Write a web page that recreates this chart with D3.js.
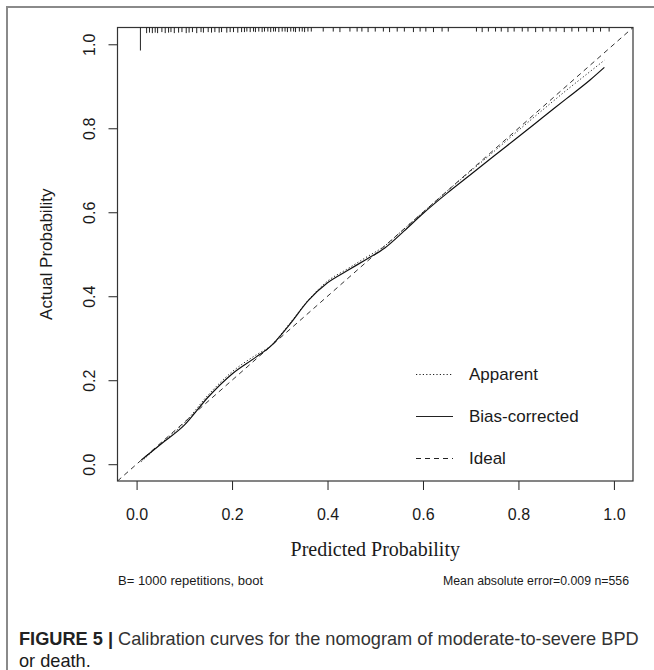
<!DOCTYPE html>
<html>
<head>
<meta charset="utf-8">
<script src="https://cdn.jsdelivr.net/npm/d3@7"></script>
<style>
  body { margin: 0; background: #fff; }
  svg { display: block; }
  text { font-family: "Liberation Sans", Arial, sans-serif; fill: #1a1a1a; }
</style>
</head>
<body>
<div id="chart"></div>
<script>
// calibration curves (x = predicted, y = observed)
const predX = [0.01, 0.05, 0.10, 0.15, 0.20, 0.25, 0.28, 0.32, 0.36, 0.40, 0.44, 0.48, 0.52, 0.56, 0.60, 0.65, 0.70, 0.75, 0.80, 0.85, 0.90, 0.95, 0.98];
const biasCorrected = [0.010, 0.047, 0.093, 0.160, 0.215, 0.255, 0.280, 0.332, 0.390, 0.432, 0.460, 0.487, 0.515, 0.555, 0.597, 0.645, 0.690, 0.735, 0.780, 0.825, 0.870, 0.915, 0.945];
const apparent = [0.006, 0.048, 0.098, 0.165, 0.220, 0.260, 0.281, 0.334, 0.391, 0.436, 0.464, 0.492, 0.520, 0.560, 0.600, 0.650, 0.698, 0.746, 0.795, 0.843, 0.890, 0.935, 0.962];
const ideal = [-0.04, 1.04];

// distribution of predicted probabilities (rug at top)
const rugX = [0.008, 0.021, 0.027, 0.033, 0.039, 0.044, 0.053, 0.060, 0.067, 0.072, 0.079, 0.088, 0.095, 0.104, 0.110, 0.117, 0.126, 0.135, 0.140, 0.150, 0.157, 0.164, 0.173, 0.178, 0.189, 0.196, 0.203, 0.212, 0.220,
  0.226, 0.231, 0.238, 0.245, 0.249, 0.256, 0.263, 0.268, 0.275, 0.281, 0.287, 0.291, 0.298, 0.305, 0.311, 0.316, 0.323, 0.329, 0.333, 0.341, 0.347, 0.352, 0.359, 0.366,
  0.391, 0.412, 0.426, 0.447, 0.462, 0.472, 0.485, 0.50, 0.517, 0.53, 0.546, 0.561, 0.58, 0.594, 0.606, 0.622, 0.64, 0.653,
  0.712, 0.724, 0.737, 0.752, 0.764, 0.778, 0.791, 0.808, 0.82, 0.836, 0.851, 0.866, 0.879, 0.896, 0.912, 0.926, 0.943, 0.957, 0.972, 0.99];
const rugN = [90, 22, 20, 22, 20, 22, 18, 22, 20, 18, 22, 20, 18, 22, 20, 18, 22, 18, 20, 18, 20, 18, 20, 18, 20, 18, 18, 20, 18,
  18, 16, 18, 16, 18, 16, 18, 16, 16, 18, 16, 16, 18, 16, 16, 18, 16, 16, 18, 16, 16, 18, 16, 16,
  16, 16, 18, 16, 16, 16, 18, 16, 16, 18, 16, 16, 18, 16, 16, 18, 16, 16,
  16, 18, 16, 16, 16, 18, 16, 16, 16, 18, 16, 16, 16, 18, 16, 16, 16, 18, 16, 16];

const tickVals = [0, 0.2, 0.4, 0.6, 0.8, 1.0];
const legendItems = [
  {label: 'Apparent', dash: '1.2,2.2'},
  {label: 'Bias-corrected', dash: null},
  {label: 'Ideal', dash: '5,4'}
];

const W = 654, H = 670;
const box = {left: 117.5, right: 633, top: 27.5, bottom: 481};

const svg = d3.select('#chart').append('svg')
  .attr('width', W)
  .attr('height', H);

// outer figure frame
svg.append('line').attr('x1', 6).attr('x2', W).attr('y1', 7).attr('y2', 7)
  .attr('stroke', '#8a8a8a').attr('stroke-width', 2);
svg.append('line').attr('x1', 7).attr('x2', 7).attr('y1', 6).attr('y2', H)
  .attr('stroke', '#8a8a8a').attr('stroke-width', 2);

const x = d3.scaleLinear().domain([-0.04, 1.04]).range([box.left, box.right]);
const y = d3.scaleLinear().domain([-0.04, 1.04]).range([box.bottom, box.top]);

svg.append('clipPath').attr('id', 'clip')
  .append('rect')
  .attr('x', box.left).attr('y', box.top)
  .attr('width', box.right - box.left).attr('height', box.bottom - box.top);

// axes
const xAxis = svg.append('g')
  .attr('transform', `translate(0,${box.bottom})`)
  .call(d3.axisBottom(x).tickValues(tickVals).tickFormat(d3.format('.1f')).tickSize(9).tickPadding(19));
const yAxis = svg.append('g')
  .attr('transform', `translate(${box.left},0)`)
  .call(d3.axisLeft(y).tickValues(tickVals).tickFormat(d3.format('.1f')).tickSize(9).tickPadding(0));

[xAxis, yAxis].forEach(g => {
  g.select('.domain').remove();
  g.selectAll('.tick line').attr('stroke', '#222');
  g.selectAll('.tick text').style('font-size', '16px').attr('fill', '#1a1a1a')
    .style('font-family', '"Liberation Sans", Arial, sans-serif');
});
yAxis.selectAll('.tick text')
  .attr('x', null).attr('dy', null)
  .attr('text-anchor', 'middle')
  .attr('transform', 'translate(-28,0) rotate(-90)')
  .attr('dy', '0.35em');

// plot box
svg.append('rect')
  .attr('x', box.left).attr('y', box.top)
  .attr('width', box.right - box.left).attr('height', box.bottom - box.top)
  .attr('fill', 'none').attr('stroke', '#333').attr('stroke-width', 1.2);

// rug of predicted probabilities
const rugLen = d3.scaleLinear().domain([0, d3.max(rugN)]).range([0, 23]);
svg.append('g').selectAll('line')
  .data(rugX)
  .enter()
  .append('line')
  .attr('x1', d => x(d)).attr('x2', d => x(d))
  .attr('y1', box.top)
  .attr('y2', (d, i) => box.top + rugLen(rugN[i]))
  .attr('stroke', '#222').attr('stroke-width', 1);

const plot = svg.append('g').attr('clip-path', 'url(#clip)');

// ideal diagonal
plot.append('line')
  .attr('x1', x(ideal[0])).attr('y1', y(ideal[0]))
  .attr('x2', x(ideal[1])).attr('y2', y(ideal[1]))
  .attr('stroke', '#333').attr('stroke-width', 1).attr('stroke-dasharray', '5,4');

const line = d3.line().curve(d3.curveMonotoneX);
plot.append('path')
  .attr('d', line(predX.map((d, i) => [x(d), y(apparent[i])])))
  .attr('fill', 'none').attr('stroke', '#222').attr('stroke-width', 1)
  .attr('stroke-dasharray', '1.2,2.2');
plot.append('path')
  .attr('d', line(predX.map((d, i) => [x(d), y(biasCorrected[i])])))
  .attr('fill', 'none').attr('stroke', '#111').attr('stroke-width', 1.2);

// legend
const legend = svg.append('g');
legendItems.forEach((item, i) => {
  const ly = 374.5 + i * 42;
  legend.append('line')
    .attr('x1', 416).attr('x2', 453).attr('y1', ly).attr('y2', ly)
    .attr('stroke', '#222').attr('stroke-width', 1.1)
    .attr('stroke-dasharray', item.dash);
  legend.append('text')
    .attr('x', 469).attr('y', ly).attr('dy', '0.35em')
    .style('font-size', '17px')
    .text(item.label);
});

// axis titles
svg.append('text')
  .attr('transform', `translate(52,${(y(0) + y(1)) / 2}) rotate(-90)`)
  .attr('text-anchor', 'middle')
  .style('font-size', '17px')
  .text('Actual Probability');

svg.append('text')
  .attr('x', (box.left + box.right) / 2).attr('y', 556)
  .attr('text-anchor', 'middle')
  .style('font-family', '"Liberation Serif", "Times New Roman", serif')
  .style('font-size', '20px')
  .text('Predicted Probability');

svg.append('text')
  .attr('x', 118).attr('y', 585)
  .attr('textLength', 145).attr('lengthAdjust', 'spacingAndGlyphs')
  .style('font-size', '13px')
  .text('B= 1000 repetitions, boot');

svg.append('text')
  .attr('x', 629).attr('y', 585)
  .attr('text-anchor', 'end')
  .attr('textLength', 186).attr('lengthAdjust', 'spacingAndGlyphs')
  .style('font-size', '13px')
  .text('Mean absolute error=0.009 n=556');

// caption
const cap = svg.append('text').attr('x', 19).attr('y', 645).style('font-size', '18.2px');
cap.append('tspan').style('font-weight', 'bold').attr('fill', '#222').text('FIGURE 5 | ');
cap.append('tspan').attr('fill', '#333').text('Calibration curves for the nomogram of moderate-to-severe BPD');
svg.append('text').attr('x', 19).attr('y', 667).style('font-size', '18.2px').attr('fill', '#333')
  .text('or death.');
</script>
</body>
</html>
